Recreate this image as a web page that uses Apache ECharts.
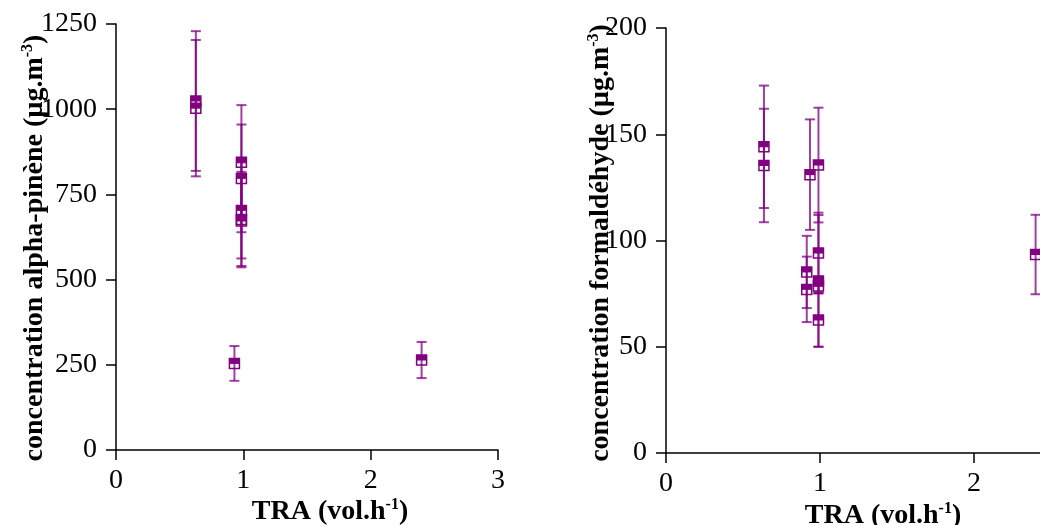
<!DOCTYPE html>
<html>
<head>
<meta charset="utf-8">
<script src="https://cdn.jsdelivr.net/npm/echarts@6/dist/echarts.min.js"></script>
<style>
html,body{margin:0;padding:0;background:#fff;}
#c{width:1040px;height:525px;}
</style>
</head>
<body>
<div id="c"></div>
<script>
// ---- Data: alpha-pinène (left panel) ----
const pineneTRA  = [0.627, 0.627, 0.93, 2.40, 0.985, 0.985, 0.985, 0.985, 0.985];
const pineneConc = [1024, 1003, 254, 264, 844, 797, 703, 672, 676];
const pineneErr  = [205, 200, 51, 53, 168, 158, 141, 132, 140];

// ---- Data: formaldéhyde (right panel) ----
const formTRA  = [0.636, 0.636, 0.935, 0.99, 0.914, 0.914, 0.99, 0.99, 0.99, 0.99, 2.40];
const formConc = [144.1, 135.3, 131, 135.5, 85.2, 77, 94.1, 81, 78.6, 62.6, 93.4];
const formErr  = [28.8, 26.7, 26, 27, 17, 15.4, 19, 31, 3, 12.6, 18.7];

// ---- Axis ticks ----
const xTicks = [0, 1, 2, 3];
const pineneTicks = [0, 250, 500, 750, 1000, 1250];
const formTicks = [0, 50, 100, 150, 200];

const PURPLE = '#800080';
const BAR = 'rgba(128,0,128,0.75)';
const FONT = '"Liberation Serif","Times New Roman",serif';

function zip(a, b, c) { return a.map((v, i) => [v, b[i], c[i]]); }

function errRender(params, api) {
  const x = api.value(0), y = api.value(1), e = api.value(2);
  const t = api.coord([x, y + e]);
  const b = api.coord([x, y - e]);
  const st = { stroke: BAR, lineWidth: 2 };
  return {
    type: 'group',
    children: [
      { type: 'line', shape: { x1: t[0], y1: t[1], x2: b[0], y2: b[1] }, style: st },
      { type: 'line', shape: { x1: t[0] - 5, y1: t[1], x2: t[0] + 5, y2: t[1] }, style: st },
      { type: 'line', shape: { x1: b[0] - 5, y1: b[1], x2: b[0] + 5, y2: b[1] }, style: st }
    ]
  };
}
function markRender(params, api) {
  const c = api.coord([api.value(0), api.value(1)]);
  return {
    type: 'group',
    children: [
      { type: 'rect', shape: { x: c[0] - 5, y: c[1] - 5, width: 10, height: 10 },
        style: { fill: 'rgba(255,255,255,0)', stroke: PURPLE, lineWidth: 1.5 } },
      { type: 'rect', shape: { x: c[0] - 5, y: c[1] - 5, width: 10, height: 5.5 },
        style: { fill: PURPLE } }
    ]
  };
}

const SUP = { fontSize: 16, fontWeight: 'bold', fontFamily: FONT, color: '#000', verticalAlign: 'top', lineHeight: 14 };

function yAxisCfg(gi, ticks, name, gap, padRight) {
  return {
    type: 'value', gridIndex: gi,
    min: ticks[0], max: ticks[ticks.length - 1], interval: ticks[1] - ticks[0],
    axisLine: { show: true, lineStyle: { color: '#000', width: 1.5 } },
    axisTick: { show: true, length: 10, lineStyle: { color: '#000', width: 1.5 } },
    axisLabel: { color: '#000', fontSize: 28, fontFamily: FONT, margin: 19, formatter: v => String(v) },
    splitLine: { show: false },
    name: name, nameLocation: 'middle', nameRotate: 90, nameGap: gap, nameMoveOverlap: false,
    nameTextStyle: {
      color: '#000', fontFamily: FONT, fontWeight: 'bold', fontSize: 28, lineHeight: 30,
      padding: [0, padRight, 0, 0],
      rich: { sup: SUP }
    }
  };
}
function xAxisCfg(gi, gap, pad) {
  return {
    type: 'value', gridIndex: gi,
    min: xTicks[0], max: xTicks[xTicks.length - 1], interval: 1,
    axisLine: { show: true, onZero: false, lineStyle: { color: '#000', width: 1.5 } },
    axisTick: { show: true, length: 10, lineStyle: { color: '#000', width: 1.5 } },
    axisLabel: { color: '#000', fontSize: 28, fontFamily: FONT, margin: 17, formatter: v => String(v) },
    splitLine: { show: false },
    name: 'TRA (vol.h{sup|-1})', nameLocation: 'middle', nameGap: gap, nameMoveOverlap: false,
    nameTextStyle: {
      color: '#000', fontFamily: FONT, fontWeight: 'bold', fontSize: 28, lineHeight: 30,
      padding: pad,
      rich: { sup: SUP }
    }
  };
}

const chart = echarts.init(document.getElementById('c'), null, { renderer: 'canvas' });
chart.setOption({
  animation: false,
  backgroundColor: '#fff',
  grid: [
    { left: 116, top: 24, width: 382, height: 426, outerBoundsMode: 'none', containLabel: false },
    { left: 666, top: 28, width: 462, height: 425, outerBoundsMode: 'none', containLabel: false }
  ],
  xAxis: [xAxisCfg(0, 47, [0, 0, 0, 46]), xAxisCfg(1, 48, [0, 28, 0, 0])],
  yAxis: [
    yAxisCfg(0, pineneTicks, 'concentration alpha-pinène (µg.m{sup|-3})', 66, 22),
    yAxisCfg(1, formTicks, 'concentration formaldéhyde (µg.m{sup|-3})', 50, 5)
  ],
  series: [
    { type: 'custom', xAxisIndex: 0, yAxisIndex: 0, renderItem: errRender, data: zip(pineneTRA, pineneConc, pineneErr), z: 2 },
    { type: 'custom', xAxisIndex: 0, yAxisIndex: 0, renderItem: markRender, data: zip(pineneTRA, pineneConc, pineneErr), z: 3 },
    { type: 'custom', xAxisIndex: 1, yAxisIndex: 1, renderItem: errRender, data: zip(formTRA, formConc, formErr), z: 2 },
    { type: 'custom', xAxisIndex: 1, yAxisIndex: 1, renderItem: markRender, data: zip(formTRA, formConc, formErr), z: 3 }
  ]
});
</script>
</body>
</html>
